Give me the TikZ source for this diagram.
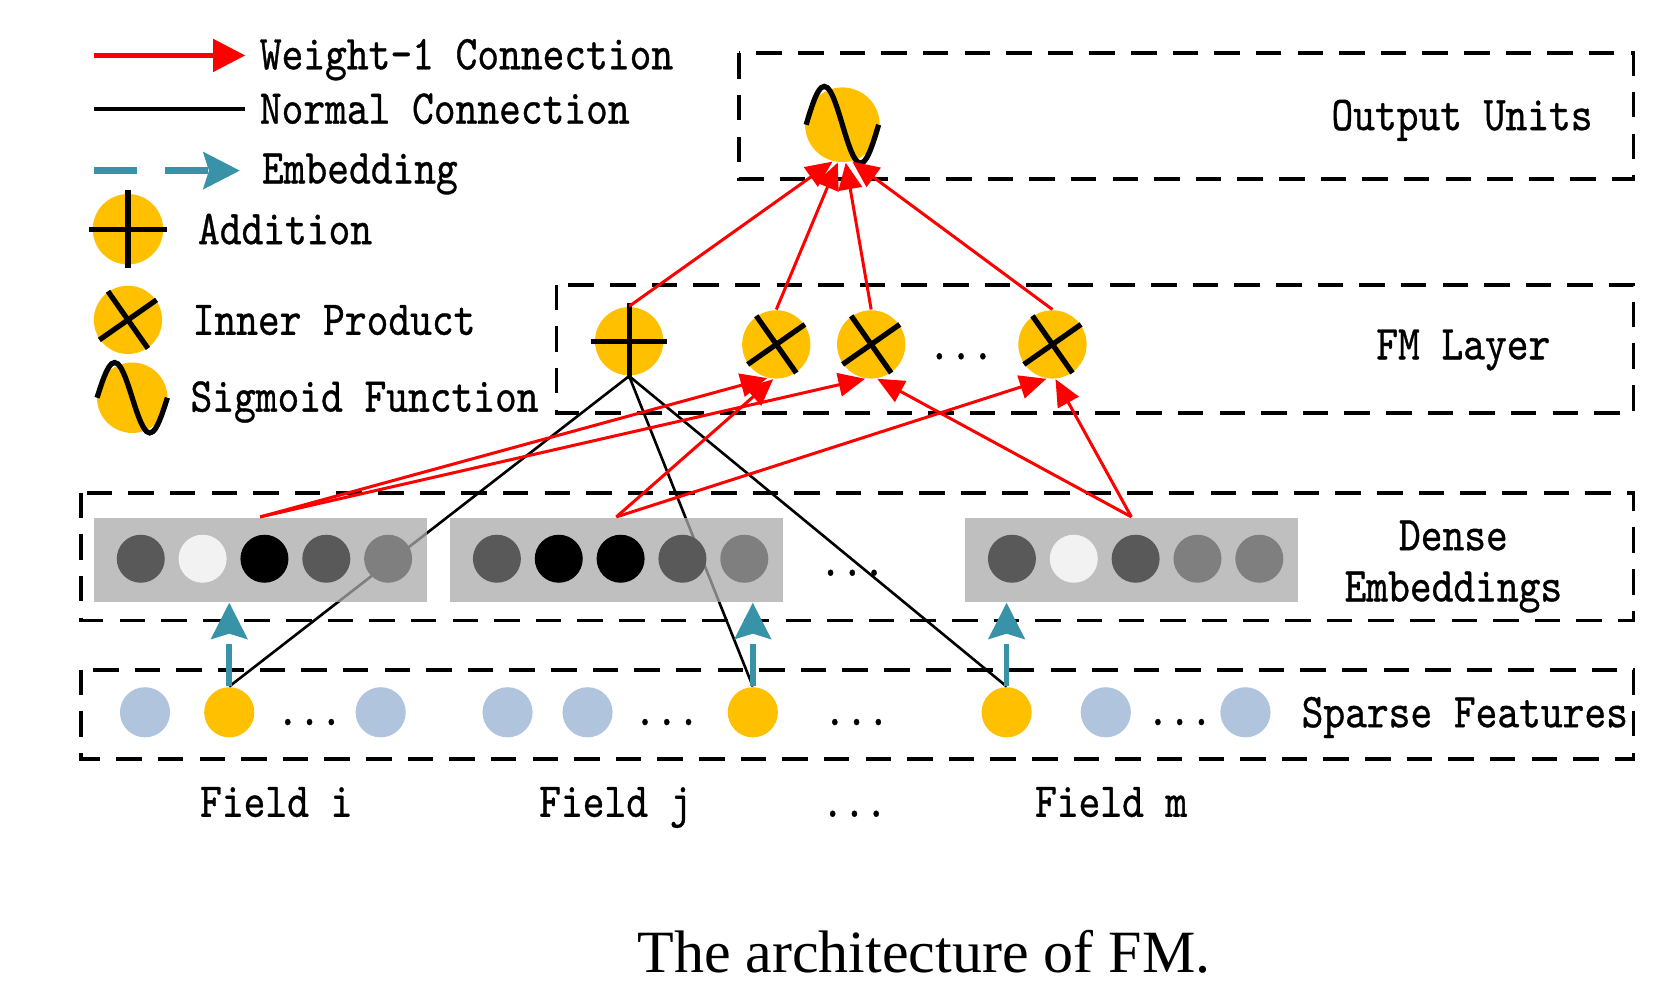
\documentclass[tikz,border=0pt]{standalone}
\usepackage{fontspec}
\setmainfont{Liberation Serif}
\newfontfamily\labelfont{lmmono10-regular}[Extension=.otf, FakeStretch=0.85, FakeBold=0.7]
\usetikzlibrary{arrows.meta}
\definecolor{amber}{RGB}{255, 192, 0}
\definecolor{steel}{RGB}{176, 196, 222}
\definecolor{embteal}{RGB}{56, 146, 168}
\definecolor{boxgray}{RGB}{170, 170, 170}
\definecolor{dkgray}{RGB}{89, 89, 89}
\definecolor{mdgray}{RGB}{127, 127, 127}
\definecolor{ltgray}{RGB}{242, 242, 242}

\tikzset{
  layerbox/.style={draw, line width=1pt, dash pattern=on 6.8pt off 4.3pt},
  weightone/.style={draw=red, line width=0.8pt, -{Triangle[length=0.25cm, width=0.22cm]}},
  normalline/.style={draw=black, line width=0.7pt},
  embedarrow/.style={draw=embteal, line width=1.5pt, dash pattern=on 0.4cm off 0.27cm,
                     -{Stealth[length=0.34cm, width=0.34cm, inset=0.05cm]}},
  opnode/.style={circle, fill=amber, minimum size=0.64cm, inner sep=0pt},
  opline/.style={line width=1.4pt},
  embunit/.style={circle, minimum size=0.45cm, inner sep=0pt},
  sparseunit/.style={circle, minimum size=0.47cm, inner sep=0pt},
  embvector/.style={rectangle, fill=boxgray, fill opacity=0.75, minimum width=3.12cm,
                    minimum height=0.79cm, inner sep=0pt},
  lbl/.style={font=\labelfont\fontsize{13}{15}\selectfont, inner sep=0pt, anchor=base west},
}

\begin{document}
\begin{tikzpicture}[x=0.01cm, y=-0.01cm]
            \useasboundingbox (0,0) rectangle (1568,934);
            % Layer frames
            \draw[layerbox] ( 693, 50) rectangle (1532,168);
            \draw[layerbox] ( 522,267) rectangle (1532,387);
            \draw[layerbox] (  76,462) rectangle (1532,582);
            \draw[layerbox] (  76,628) rectangle (1532,712);
            % Legend
            \coordinate (lgw0) at ( 88, 52);
            \coordinate (lgw1) at (230, 52);
            \draw[weightone, line width=1.2pt, -{Triangle[length=0.3cm, width=0.3cm]}] (lgw0) -- (lgw1);
            \coordinate (lgn0) at ( 88,102);
            \coordinate (lgn1) at (230,102);
            \draw[normalline, line width=1.2pt] (lgn0) -- (lgn1);
            \coordinate (lge0) at ( 88,160);
            \coordinate (lge1) at (225,160);
            \draw[embedarrow, line width=2pt] (lge0) -- (lge1);
            \node[opnode, minimum size=0.66cm] (lgadd) at (120,215) {};
            \draw[opline] ([yshift= 0.03cm]lgadd.north) -- ([yshift=-0.03cm]lgadd.south);
            \draw[opline] ([xshift=-0.03cm]lgadd.west)  -- ([xshift= 0.03cm]lgadd.east);
            \node[opnode] (lgip) at (120,300) {};
            \draw[opline] (lgip.125) -- (lgip.-55);
            \draw[opline] (lgip.35)  -- (lgip.215);
            \node[opnode, minimum size=0.66cm] (lgsig) at (124,373) {};
            \draw[opline, shift={(lgsig.center)}] plot[smooth, domain=-1:1, samples=25] ({33*\x}, {-33*sin(180*(\x+1))});
            % FM layer and output unit
            \node[opnode, minimum size=0.7cm] (sig) at (790,117) {};
            \draw[opline, shift={(sig.center)}] plot[smooth, domain=-1:1, samples=25] ({34*\x}, {-36*sin(180*(\x+1))});
            \node[opnode] (add) at (590,320) {};
            \draw[opline] ([yshift= 0.03cm]add.north) -- ([yshift=-0.03cm]add.south);
            \draw[opline] ([xshift=-0.03cm]add.west)  -- ([xshift= 0.03cm]add.east);
            \node[opnode] (ip1) at (728,323) {};
            \draw[opline] (ip1.125) -- (ip1.-55);
            \draw[opline] (ip1.35)  -- (ip1.215);
            \node[opnode] (ip2) at (817,323) {};
            \draw[opline] (ip2.125) -- (ip2.-55);
            \draw[opline] (ip2.35)  -- (ip2.215);
            \node[opnode] (ip3) at (987,323) {};
            \draw[opline] (ip3.125) -- (ip3.-55);
            \draw[opline] (ip3.35)  -- (ip3.215);
            % Sparse features
            \node[sparseunit, fill=steel] (spi1) at ( 136,668) {};
            \node[sparseunit, fill=amber] (spi)  at ( 215,668) {};
            \node[sparseunit, fill=steel] (spi3) at ( 357,668) {};
            \node[sparseunit, fill=steel] (spj1) at ( 476,668) {};
            \node[sparseunit, fill=steel] (spj2) at ( 551,668) {};
            \node[sparseunit, fill=amber] (spj)  at ( 706,668) {};
            \node[sparseunit, fill=amber] (spm)  at ( 944,668) {};
            \node[sparseunit, fill=steel] (spm2) at (1037,668) {};
            \node[sparseunit, fill=steel] (spm3) at (1168,668) {};
            % Normal connections (behind the embedding vectors)
            \draw[normalline] (add.south) -- (spi.north);
            \draw[normalline] (add.south) -- (spj.north);
            \draw[normalline] (add.south) -- (spm.north);
            % Dense embeddings
            \node[embvector] (embi) at ( 244,525) {};
            \node[embunit, fill=dkgray] (ei1) at ( 132,524) {};
            \node[embunit, fill=ltgray] (ei2) at ( 190,524) {};
            \node[embunit, fill=black]  (ei3) at ( 248,524) {};
            \node[embunit, fill=dkgray] (ei4) at ( 306,524) {};
            \node[embunit, fill=mdgray] (ei5) at ( 364,524) {};
            \node[embvector] (embj) at ( 578,525) {};
            \node[embunit, fill=dkgray] (ej1) at ( 466,524) {};
            \node[embunit, fill=black]  (ej2) at ( 524,524) {};
            \node[embunit, fill=black]  (ej3) at ( 582,524) {};
            \node[embunit, fill=dkgray] (ej4) at ( 640,524) {};
            \node[embunit, fill=mdgray] (ej5) at ( 698,524) {};
            \node[embvector] (embm) at (1061,525) {};
            \node[embunit, fill=dkgray] (em1) at ( 949,524) {};
            \node[embunit, fill=ltgray] (em2) at (1007,524) {};
            \node[embunit, fill=dkgray] (em3) at (1065,524) {};
            \node[embunit, fill=mdgray] (em4) at (1123,524) {};
            \node[embunit, fill=mdgray] (em5) at (1181,524) {};
            % Embedding arrows
            \draw[embedarrow] (spi.north) -- (spi.north |- embi.south);
            \draw[embedarrow] (spj.north) -- (spj.north |- embj.south);
            \draw[embedarrow] (spm.north) -- (spm.north |- embm.south);
            % Weight-1 connections
            \draw[weightone] (embi.north) -- (ip1.-105);
            \draw[weightone] (embi.north) -- (ip2.-100);
            \draw[weightone] (embj.north) -- (ip1.-95);
            \draw[weightone] (embj.north) -- (ip3.-100);
            \draw[weightone] (embm.north) -- (ip2.-80);
            \draw[weightone] (embm.north) -- (ip3.-85);
            \draw[weightone] (add.north) -- (sig.-105);
            \draw[weightone] (ip1.north) -- (sig.-97);
            \draw[weightone] (ip2.north) -- (sig.-85);
            \draw[weightone] (ip3.north) -- (sig.-75);
            % Texts
            \node[lbl] (lgwtxt) at ( 243, 65) {Weight-1 Connection};
            \node[lbl] (lgntxt) at ( 243,116) {Normal Connection};
            \node[lbl] (lgetxt) at ( 245,172) {Embedding};
            \node[lbl] (lgatxt) at ( 185,229) {Addition};
            \node[lbl] (lgitxt) at ( 180,314) {Inner Product};
            \node[lbl] (lgstxt) at ( 178,386) {Sigmoid Function};
            \node[lbl] (outtxt) at (1248,122) {Output Units};
            \node[lbl] (fmtxt)  at (1290,337) {FM Layer};
            \node[lbl, anchor=base] (dnstxt) at (1363,516) {Dense};
            \node[lbl, anchor=base] (embtxt) at (1363,564) {Embeddings};
            \node[lbl] (spstxt) at (1220,682) {Sparse Features};
            \node[lbl] (fmdots) at ( 870,337) {...};
            \node[lbl] (emdots) at ( 768,540) {...};
            \node[lbl] (sidots) at ( 259,680) {...};
            \node[lbl] (sjdots) at ( 594,680) {...};
            \node[lbl] (sxdots) at ( 772,680) {...};
            \node[lbl] (smdots) at (1075,680) {...};
            \node[lbl] (fitxt)  at ( 187,766) {Field i};
            \node[lbl] (fjtxt)  at ( 505,766) {Field j};
            \node[lbl] (fxdots) at ( 770,766) {...};
            \node[lbl] (fmmtxt) at ( 970,766) {Field m};
            \node[font=\fontsize{16}{19}\selectfont, inner sep=0pt, anchor=base west] (caption) at (597,912) {The architecture of FM.};
\end{tikzpicture}
\end{document}
